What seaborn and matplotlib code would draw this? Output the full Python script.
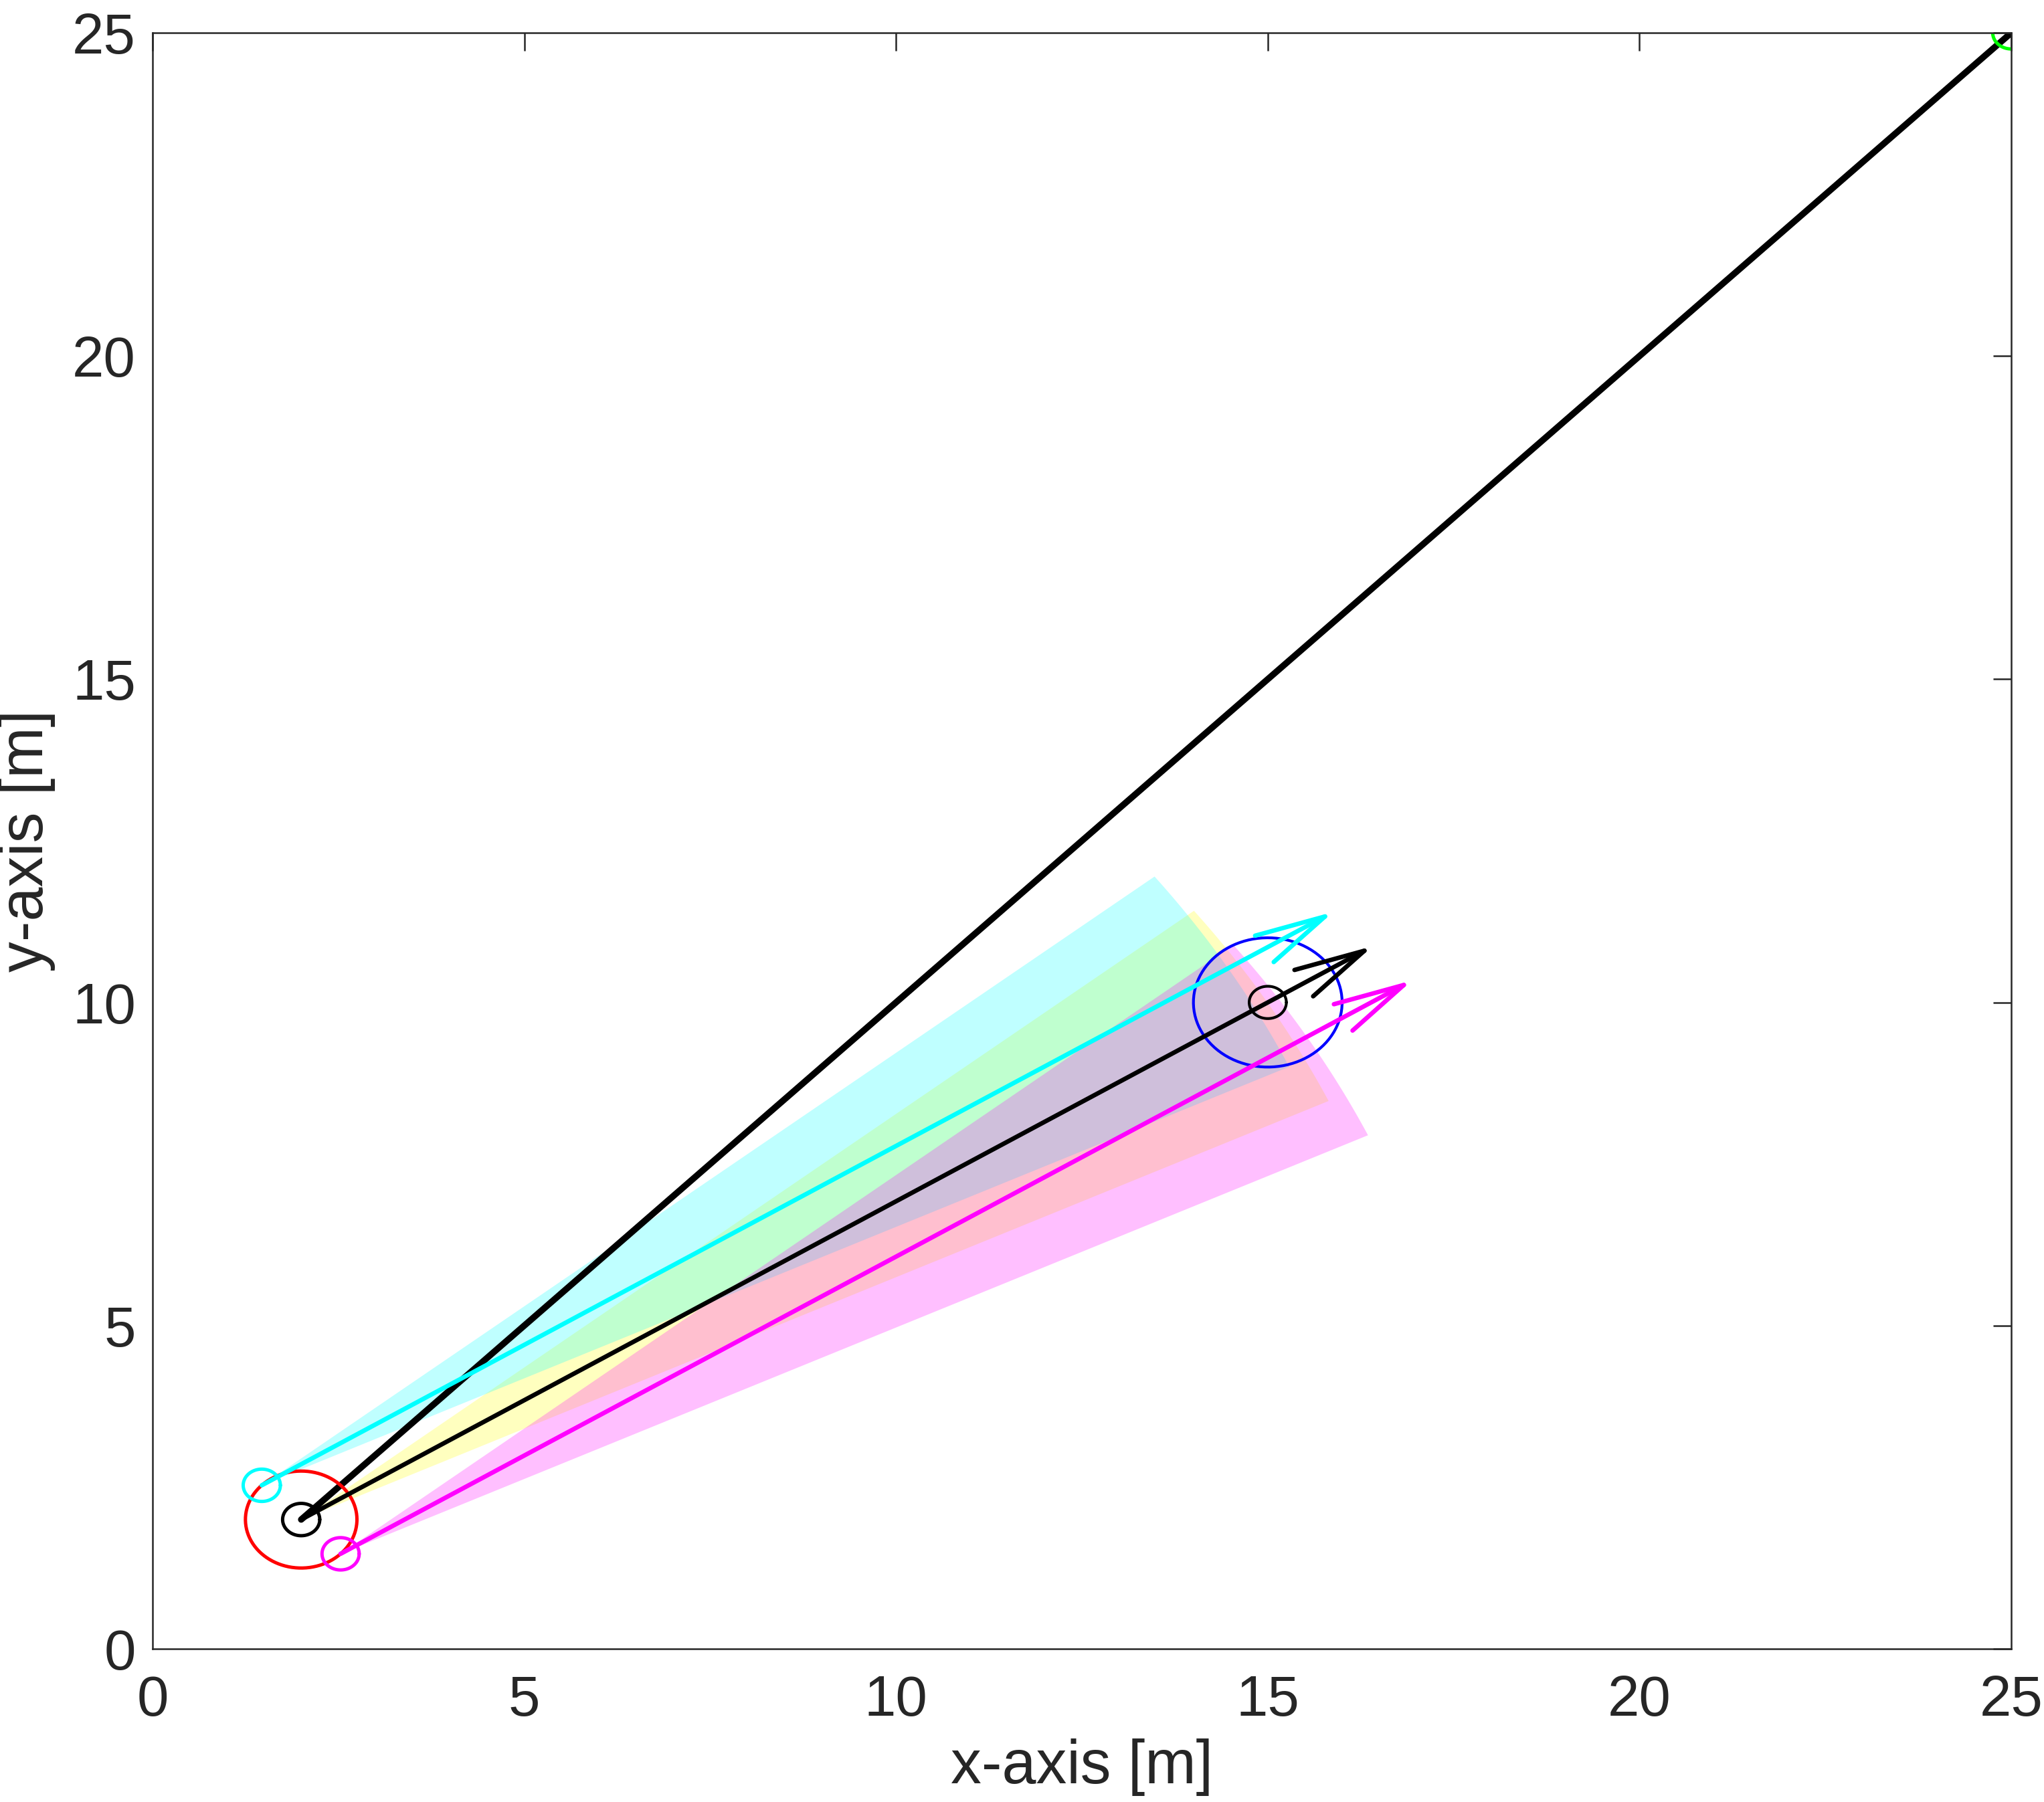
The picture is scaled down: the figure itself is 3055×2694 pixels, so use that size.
import numpy as np
import seaborn as sns
import matplotlib
matplotlib.use('Agg')
import matplotlib.pyplot as plt

# start, goal and target positions [m]
start_x, start_y = 2.0, 2.0
goal_x, goal_y = 25.0, 25.0
target_x, target_y = 15.0, 10.0

# the three agents: left wing, leader, right wing
agent_x = [1.47, 2.0, 2.53]
agent_y = [2.53, 2.0, 1.47]
agent_r = 0.25

start_r = 0.75    # red circle round the start
target_r = 1.0    # blue circle round the target
goal_r = 0.25     # green circle at the goal

# velocity vector shown by the quiver arrows
arrow_u, arrow_v = 14.3, 8.8

# sensing cone of each agent
fov_range = 15.26
fov_half_deg = 6.5

sns.set_theme(style='white')
plt.rcParams['font.family'] = ['Liberation Sans', 'DejaVu Sans']

fig = plt.figure(figsize=(3055 / 300, 2694 / 300), dpi=300)
ax = fig.add_axes([0.0746, 0.085, 0.984 - 0.0746, 0.9818 - 0.085])


def circle(cx, cy, r, n=200):
    t = np.linspace(0, 2 * np.pi, n)
    return cx + r * np.cos(t), cy + r * np.sin(t)


def draw_line(xs, ys, color, lw):
    sns.lineplot(x=xs, y=ys, sort=False, estimator=None, color=color,
                 linewidth=lw, ax=ax)


# sensing cones (leader first, then left and right wing)
heading = np.arctan2(target_y - start_y, target_x - start_x)
half = np.deg2rad(fov_half_deg)
cone_colors = ['cyan', 'yellow', 'magenta']
for i in [1, 0, 2]:
    t = np.linspace(heading - half, heading + half, 60)
    px = np.concatenate([[agent_x[i]], agent_x[i] + fov_range * np.cos(t), [agent_x[i]]])
    py = np.concatenate([[agent_y[i]], agent_y[i] + fov_range * np.sin(t), [agent_y[i]]])
    ax.fill(px, py, color=cone_colors[i], alpha=0.25, linewidth=0)

# path from start to goal
draw_line([start_x, goal_x], [start_y, goal_y], 'black', 2.3)

# circles
cx, cy = circle(start_x, start_y, start_r)
draw_line(cx, cy, 'red', 1.2)
cx, cy = circle(target_x, target_y, target_r)
draw_line(cx, cy, 'blue', 1.0)
cx, cy = circle(target_x, target_y, agent_r)
draw_line(cx, cy, 'black', 1.0)
cx, cy = circle(goal_x, goal_y, goal_r)
draw_line(cx, cy, 'lime', 1.2)

arrow_colors = ['cyan', 'black', 'magenta']
a, b = 0.057, 0.25
for i in range(3):
    cx, cy = circle(agent_x[i], agent_y[i], agent_r)
    draw_line(cx, cy, arrow_colors[i], 1.2)
    x0, y0 = agent_x[i], agent_y[i]
    x1, y1 = x0 + arrow_u, y0 + arrow_v
    draw_line([x0, x1], [y0, y1], arrow_colors[i], 1.6)
    hx = [x1 - a * (arrow_u + b * arrow_v), x1, x1 - a * (arrow_u - b * arrow_v)]
    hy = [y1 - a * (arrow_v - b * arrow_u), y1, y1 - a * (arrow_v + b * arrow_u)]
    draw_line(hx, hy, arrow_colors[i], 1.6)

ax.set_xlim(0, 25)
ax.set_ylim(0, 25)
ax.set_xticks(np.arange(0, 26, 5))
ax.set_yticks(np.arange(0, 26, 5))
for side in ax.spines.values():
    side.set_visible(True)
    side.set_color('#262626')
    side.set_linewidth(0.6)
ax.tick_params(direction='in', length=6.5, width=0.6, top=True, right=True,
               labelsize=20.5, labelcolor='#262626', color='#262626')
ax.tick_params(axis='x', pad=9)
ax.tick_params(axis='y', pad=6)
ax.set_xlabel('x-axis [m]', fontsize=22, color='#262626', labelpad=4)
ax.set_ylabel('y-axis [m]', fontsize=22, color='#262626', labelpad=6)

fig.savefig('out.png', dpi=300)
